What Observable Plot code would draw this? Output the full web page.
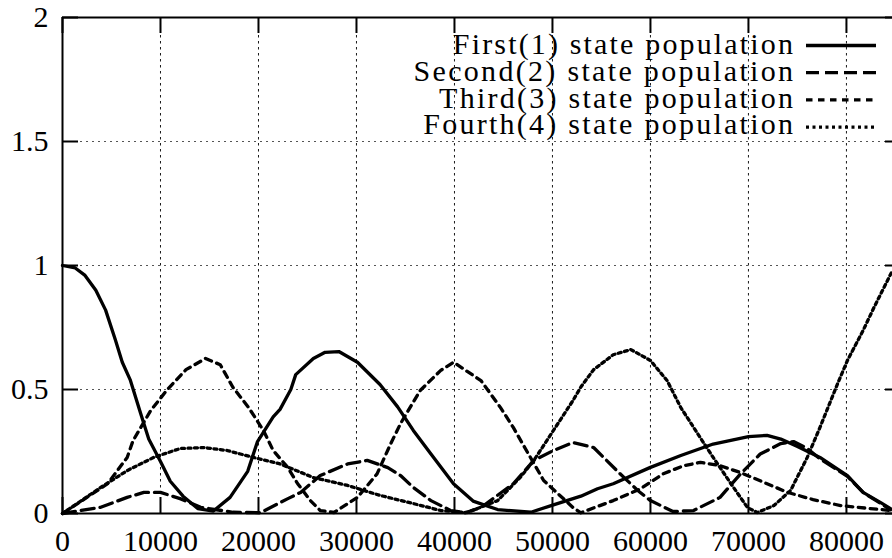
<!DOCTYPE html>
<html><head><meta charset="utf-8">
<script src="https://cdn.jsdelivr.net/npm/d3@7"></script>
<script src="https://cdn.jsdelivr.net/npm/@observablehq/plot@0.6"></script>
<style>
html,body{margin:0;padding:0;background:#fff;overflow:hidden}
</style>
</head><body>
<script>
const xTicks = [0,10000,20000,30000,40000,50000,60000,70000,80000];
const xTickLabels = ["0","10000","20000","30000","40000","50000","60000","70000","80000"];
const yTicks = [0,0.5,1,1.5,2];
const yTickLabels = ["0","0.5","1","1.5","2"];
const seriesNames = ["First(1) state population","Second(2) state population","Third(3) state population","Fourth(4) state population"];

const s1 = [[0,1.0],[1300,0.99],[2300,0.96],[3400,0.9],[4400,0.82],[5400,0.7],[6100,0.61],[6900,0.54],[8000,0.4],[8800,0.3],[10000,0.21],[11000,0.13],[12300,0.07],[13800,0.02],[15400,0.01],[17100,0.065],[18900,0.17],[19900,0.29],[21500,0.39],[22200,0.42],[23300,0.5],[23800,0.56],[25600,0.625],[26800,0.65],[28200,0.653],[30100,0.61],[32400,0.52],[34200,0.43],[35800,0.335],[37600,0.24],[39900,0.12],[41900,0.05],[44400,0.016],[47800,0.005],[50100,0.035],[52900,0.07],[54600,0.1],[56200,0.12],[60000,0.186],[63100,0.234],[66400,0.28],[70000,0.31],[71900,0.315],[73300,0.3],[75000,0.27],[77300,0.226],[80100,0.153],[81700,0.085],[83500,0.044],[84500,0.02]];
const s2 = [[0,0],[3900,0.025],[6600,0.065],[8300,0.085],[10000,0.085],[12000,0.06],[14100,0.025],[17400,0.005],[20200,0.003],[23000,0.06],[24300,0.085],[26300,0.153],[29100,0.2],[31100,0.214],[33200,0.185],[34500,0.153],[35800,0.105],[37600,0.052],[39600,0.012],[41100,0.003],[42700,0.024],[46000,0.12],[48100,0.214],[50100,0.254],[52100,0.286],[54200,0.266],[56900,0.16],[58700,0.093],[60000,0.052],[62300,0.008],[64400,0.012],[67100,0.065],[69200,0.16],[71200,0.24],[73300,0.282],[74600,0.29],[76000,0.262],[77300,0.22],[80100,0.15],[81700,0.085],[83500,0.04],[84500,0.015]];
const s3 = [[0,0],[4600,0.12],[6600,0.226],[7200,0.294],[9000,0.415],[10700,0.5],[12600,0.58],[14600,0.625],[16100,0.6],[17400,0.508],[19000,0.427],[20500,0.335],[21500,0.254],[23000,0.185],[24000,0.12],[25300,0.052],[26300,0.012],[27700,0.004],[30100,0.065],[32100,0.16],[33500,0.282],[34500,0.363],[36500,0.496],[38600,0.577],[39900,0.61],[42700,0.536],[44700,0.427],[46000,0.347],[49100,0.133],[52100,0.024],[52900,0.003],[56200,0.052],[59000,0.1],[61300,0.16],[63400,0.193],[65100,0.206],[67100,0.193],[69200,0.165],[71900,0.12],[74000,0.085],[76600,0.056],[79400,0.032],[82400,0.02],[84500,0.012]];
const s4 = [[0,0],[3900,0.105],[6600,0.173],[9300,0.226],[12000,0.262],[14400,0.266],[16800,0.254],[19500,0.226],[22200,0.2],[25600,0.145],[29100,0.113],[32400,0.073],[35800,0.04],[38600,0.012],[41300,0.004],[44400,0.052],[46700,0.145],[48100,0.214],[50100,0.335],[52100,0.456],[52900,0.51],[54200,0.58],[56200,0.64],[58000,0.661],[60000,0.617],[61700,0.536],[63100,0.427],[64800,0.323],[66400,0.226],[68200,0.121],[69900,0.024],[70900,0.004],[72600,0.032],[74300,0.093],[76000,0.226],[77300,0.347],[79100,0.524],[80100,0.617],[81700,0.738],[82800,0.83],[84700,0.98]];

const allSeries = [s1, s2, s3, s4];
const dashes = [null, "13,6", "6.5,5.5", "3,3.5"];
const font = '"Liberation Serif", "Times New Roman", serif';

const frameW = 892 - 62, frameH = 558 - 17 - 45, tickLen = 16;

const chart = Plot.plot({
  width: 892, height: 558,
  marginTop: 17, marginBottom: 45, marginLeft: 62, marginRight: 0,
  style: {fontFamily: font, fontSize: "30px", background: "#fff", color: "#000", overflow: "visible"},
  x: {domain: [0, 84700]},
  y: {domain: [0, 2]},
  marks: [
    Plot.gridX(xTicks.slice(1), {stroke: "#000", strokeOpacity: 0.9, strokeWidth: 1, strokeDasharray: "2.5,3.5"}),
    Plot.gridY(yTicks.slice(1, -1), {stroke: "#555", strokeOpacity: 1, strokeWidth: 1, strokeDasharray: "2,4"}),
    ...allSeries.map((s, i) => Plot.line(s, {x: d => d[0], y: d => d[1], stroke: "#000", strokeWidth: 3.3, strokeDasharray: dashes[i], strokeLinejoin: "round"})),
    Plot.ruleY([0, 2], {stroke: "#000", strokeWidth: 2}),
    Plot.ruleX([0], {stroke: "#000", strokeWidth: 2}),
    // inward tick marks (bottom, top, left, right)
    Plot.ruleX(xTicks, {stroke: "#000", strokeWidth: 2, insetTop: frameH - tickLen}),
    Plot.ruleX(xTicks, {stroke: "#000", strokeWidth: 2, insetBottom: frameH - tickLen}),
    Plot.ruleY(yTicks, {stroke: "#000", strokeWidth: 2, insetRight: frameW - tickLen}),
    Plot.ruleY(yTicks, {stroke: "#000", strokeWidth: 2, insetLeft: frameW - tickLen + 9}),
    Plot.axisX(xTicks, {anchor: "bottom", tickSize: 0, tickPadding: 16, fontSize: 30, tickFormat: d => xTickLabels[xTicks.indexOf(d)], label: null}),
    Plot.axisY(yTicks, {anchor: "left", tickSize: 0, tickPadding: 14, fontSize: 30, tickFormat: d => yTickLabels[yTicks.indexOf(d)], label: null})
  ]
});
document.body.appendChild(chart);

// legend (gnuplot style, inside the plot, top right)
const svg = d3.select(chart);
const lg = svg.append("g").attr("font-family", font).attr("font-size", 30).attr("fill", "#000");
seriesNames.forEach((name, i) => {
  const t = lg.append("text").attr("x", 793).attr("y", 54 + i * 26.8).attr("text-anchor", "end").text(name);
  const w = t.node().getComputedTextLength();
  if (w > 0) t.attr("textLength", w * 1.18).attr("lengthAdjust", "spacing");
  const ly = 45.5 + i * 27.2;
  const ln = lg.append("line").attr("x1", 806).attr("x2", 876).attr("y1", ly).attr("y2", ly)
    .attr("stroke", "#000").attr("stroke-width", 3.3);
  if (dashes[i]) ln.attr("stroke-dasharray", dashes[i]);
});
</script>
</body></html>
